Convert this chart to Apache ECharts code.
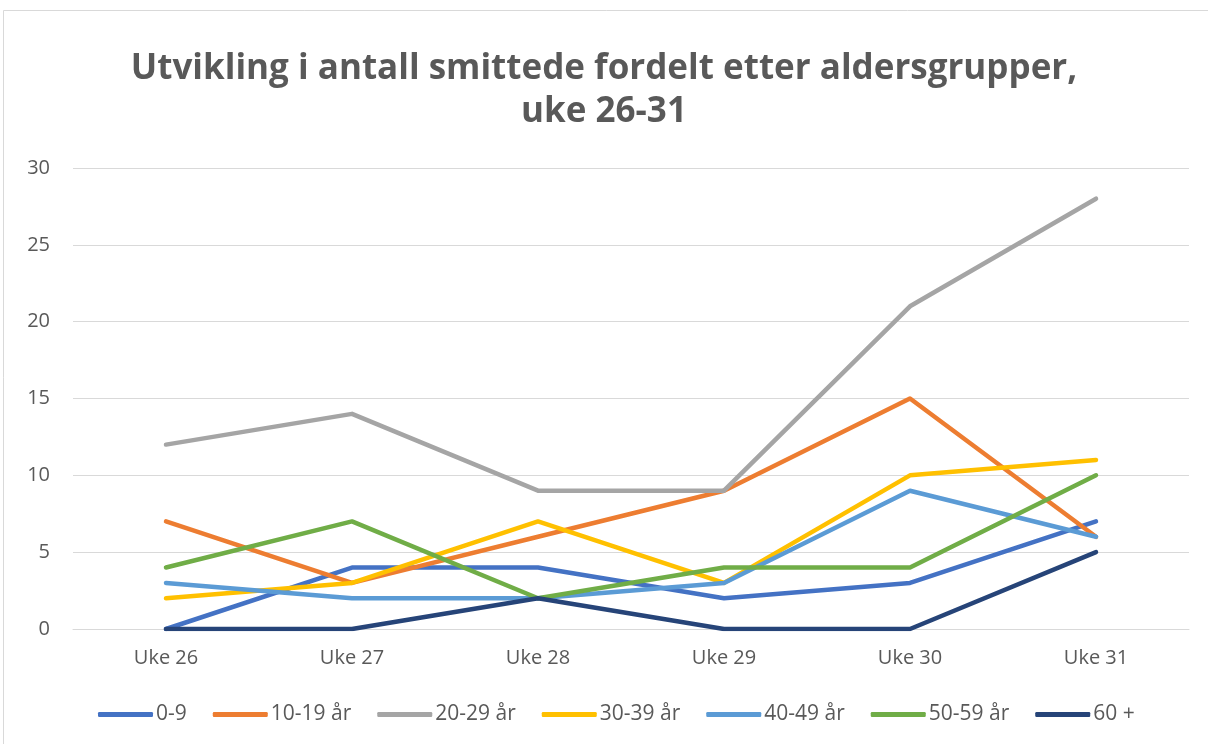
<!DOCTYPE html>
<html><head><meta charset="utf-8">
<script src="https://cdn.jsdelivr.net/npm/echarts@6/dist/echarts.min.js"></script>
<style>html,body{margin:0;padding:0;background:#fff}#c{width:1208px;height:744px}</style>
</head><body><div id="c"></div>
<script>
const categories = ['Uke 26','Uke 27','Uke 28','Uke 29','Uke 30','Uke 31'];
const seriesNames = ['0-9','10-19 år','20-29 år','30-39 år','40-49 år','50-59 år','60 +'];
const s0_9   = [0, 4, 4, 2, 3, 7];
const s10_19 = [7, 3, 6, 9, 15, 6];
const s20_29 = [12, 14, 9, 9, 21, 28];
const s30_39 = [2, 3, 7, 3, 10, 11];
const s40_49 = [3, 2, 2, 3, 9, 6];
const s50_59 = [4, 7, 2, 4, 4, 10];
const s60    = [0, 0, 2, 0, 0, 5];
const colors = ['#4472C4','#ED7D31','#A5A5A5','#FFC000','#5B9BD5','#70AD47','#264478'];
const allData = [s0_9, s10_19, s20_29, s30_39, s40_49, s50_59, s60];

const chart = echarts.init(document.getElementById('c'), null, {renderer:'canvas'});
chart.setOption({
  backgroundColor:'#fff',
  animation:false,
  color: colors,
  title:{
    text:'Utvikling i antall smittede fordelt etter aldersgrupper,\nuke 26-31',
    left:'center', top:43,
    textStyle:{fontFamily:'"Open Sans", sans-serif', fontWeight:'bold', fontSize:35, color:'#595959', lineHeight:43}
  },
  graphic:[{type:'rect', shape:{x:3.5,y:10.5,width:1220,height:760}, style:{fill:'none',stroke:'#D9D9D9',lineWidth:1}, silent:true}],
  legend:{
    top:699, left:93,
    itemWidth:55, itemHeight:5, itemGap:26,
    icon:'roundRect',
    textStyle:{fontFamily:'"Open Sans", sans-serif', fontSize:21, color:'#595959', padding:[0,0,0,-2]},
    data: seriesNames
  },
  grid:{left:73, right:19, top:168, bottom:115, containLabel:false},
  xAxis:{
    type:'category', data:categories, boundaryGap:true,
    axisLine:{lineStyle:{color:'#D9D9D9', width:1}},
    axisTick:{show:false},
    axisLabel:{fontFamily:'"Open Sans", sans-serif', fontSize:20, color:'#595959', margin:19}
  },
  yAxis:{
    type:'value', min:0, max:30, interval:5,
    axisLine:{show:false}, axisTick:{show:false},
    splitLine:{lineStyle:{color:'#D9D9D9', width:1}},
    axisLabel:{fontFamily:'"Open Sans", sans-serif', fontSize:20, color:'#595959', margin:23}
  },
  series: seriesNames.map((n,i)=>({
    name:n, type:'line', data:allData[i], symbol:'none', showSymbol:false,
    lineStyle:{width:4.5, color:colors[i], cap:'round', join:'round'},
    itemStyle:{color:colors[i]}
  }))
});
</script></body></html>
